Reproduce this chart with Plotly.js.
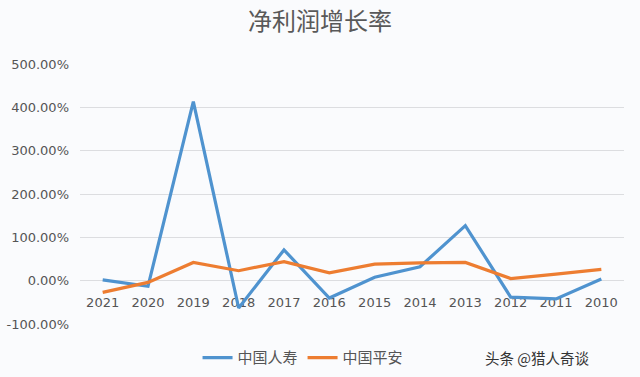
<!DOCTYPE html>
<html><head><meta charset="utf-8">
<script src="https://cdn.plot.ly/plotly-3.0.1.min.js"></script>
<style>html,body{margin:0;padding:0;background:#fafbfd;}</style>
</head><body>
<div id="chart" style="width:640px;height:377px;"></div>
<script>
const years = ['2021','2020','2019','2018','2017','2016','2015','2014','2013','2012','2011','2010'];
const chinaLife = [2, -13, 413, -63, 71, -40, 8, 32, 127, -38, -42, 4];
const pingAn = [-27, -4, 42, 23, 44, 18, 38, 41, 42, 5, 15, 26];
const yTickVals = [-100, 0, 100, 200, 300, 400, 500];
const yTickText = ['-100.00%', '0.00%', '100.00%', '200.00%', '300.00%', '400.00%', '500.00%'];
const seriesNames = ['中国人寿', '中国平安'];

const font = 'DejaVu Sans, Noto Sans CJK SC, sans-serif';
const traces = [
  {x: years, y: chinaLife, name: seriesNames[0], type: 'scatter', mode: 'lines',
   line: {color: '#4f93cf', width: 3.2}},
  {x: years, y: pingAn, name: seriesNames[1], type: 'scatter', mode: 'lines',
   line: {color: '#ed7d31', width: 3.2}}
];
const yMin = -100, yMax = 500;
const layout = {
  width: 640, height: 377,
  paper_bgcolor: '#fafbfd', plot_bgcolor: '#fafbfd',
  margin: {l: 80, r: 16, t: 64, b: 53, autoexpand: false},
  title: {text: '净利润增长率', x: 0.5, xref: 'container', xanchor: 'center', y: 0.942, yanchor: 'middle',
    font: {family: 'Noto Sans CJK SC', size: 24, color: '#595959'}},
  xaxis: {type: 'category', range: [-0.5, 11.5], showticklabels: true, showgrid: false,
    zeroline: false, showline: false, ticks: '', anchor: 'free',
    position: (0 - yMin) / (yMax - yMin), layer: 'below traces', ticklabelstandoff: 12,
    tickfont: {family: font, size: 13, color: '#555'}},
  yaxis: {range: [yMin, yMax], tickvals: yTickVals, ticktext: yTickText,
    showgrid: true, gridcolor: '#dcdde0', gridwidth: 1, zeroline: true, zerolinecolor: '#dcdde0',
    zerolinewidth: 1, showline: false, ticks: '', ticklabelstandoff: 10,
    tickfont: {family: font, size: 13, color: '#555'}},
  showlegend: true,
  legend: {orientation: 'h', x: 0.41, xanchor: 'center', y: -0.13, yanchor: 'middle',
    font: {family: 'Noto Sans CJK SC', size: 15, color: '#555'}, bgcolor: 'rgba(0,0,0,0)'},
  annotations: [{
    xref: 'paper', yref: 'paper', x: 0.84, y: -0.13, text: '头条 @猎人奇谈',
    showarrow: false, xanchor: 'center', yanchor: 'middle',
    font: {family: 'Noto Sans CJK SC', size: 14.5, color: '#333'}
  }]
};
Plotly.newPlot('chart', traces, layout, {displayModeBar: false, staticPlot: true});
</script>
</body></html>
